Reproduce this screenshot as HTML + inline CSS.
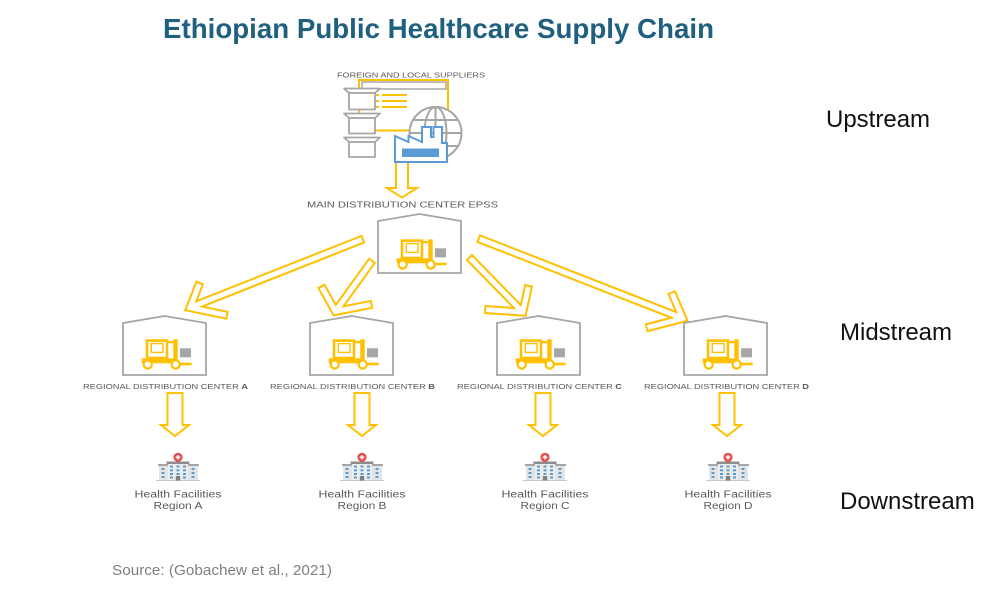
<!DOCTYPE html>
<html>
<head>
<meta charset="utf-8">
<style>
  html,body{margin:0;padding:0;background:#fff;}
  svg{display:block;}
  text{font-family:"Liberation Sans", Arial, sans-serif;}
</style>
</head>
<body>
<svg width="1005" height="590" viewBox="0 0 1005 590" xmlns="http://www.w3.org/2000/svg">
  <defs>
    <g id="wh">
      <polygon points="0,0 41.5,-7 83,0 83,52 0,52" fill="none" stroke="#A6A6A6" stroke-width="1.8" stroke-linejoin="miter"/>
    </g>
    <g id="fk">
      <rect x="18.7" y="35.3" width="35" height="5" fill="#FFC000"/>
      <rect x="24" y="17.6" width="20" height="17.4" fill="#fff" stroke="#FFC000" stroke-width="2.6"/>
      <rect x="28.3" y="20.6" width="11.7" height="8.8" fill="#fff" stroke="#FFC000" stroke-width="1.4"/>
      <rect x="44" y="18" width="7" height="2.2" fill="#FFC000"/>
      <rect x="50.3" y="16.3" width="4.4" height="25.7" fill="#FFC000"/>
      <rect x="53.7" y="39.7" width="15" height="2.6" fill="#FFC000"/>
      <rect x="57" y="25.3" width="11" height="9" fill="#A6A6A6"/>
      <circle cx="24.7" cy="41.5" r="4.1" fill="#fff" stroke="#FFC000" stroke-width="2.2"/>
      <circle cx="52.7" cy="41.5" r="4.1" fill="#fff" stroke="#FFC000" stroke-width="2.2"/>
    </g>
    <g id="hs">
      <line x1="-22" y1="27.5" x2="22" y2="27.5" stroke="#c8c8c8" stroke-width="1"/>
      <rect x="-19" y="12" width="10" height="15" fill="#e4e4e4"/>
      <rect x="-20" y="11" width="11" height="2" fill="#a6a6a6"/>
      <rect x="9" y="12" width="11" height="15" fill="#e4e4e4"/>
      <rect x="9" y="11" width="12" height="2" fill="#a6a6a6"/>
      <rect x="-10" y="10" width="20" height="17" fill="#ececec"/>
      <rect x="-11.5" y="8.5" width="23" height="2.5" fill="#8c8c8c"/>
      <circle cx="0" cy="4.3" r="4.6" fill="#e84c4c"/>
      <rect x="-0.8" y="2" width="1.6" height="4.6" fill="#fff"/>
      <rect x="-2.3" y="3.5" width="4.6" height="1.6" fill="#fff"/>
      <g fill="#5B9BD5">
        <rect x="-8" y="12.5" width="3" height="2"/>
        <rect x="-1.5" y="12.5" width="3" height="2"/>
        <rect x="5" y="12.5" width="3" height="2"/>
        <rect x="-8" y="16.3" width="3" height="2"/>
        <rect x="-1.5" y="16.3" width="3" height="2"/>
        <rect x="5" y="16.3" width="3" height="2"/>
        <rect x="-8" y="20" width="3" height="2"/>
        <rect x="-1.5" y="20" width="3" height="2"/>
        <rect x="5" y="20" width="3" height="2"/>
        <rect x="-8" y="23.5" width="3" height="2"/>
        <rect x="5" y="23.5" width="3" height="2"/>
        <rect x="-16.5" y="15" width="3" height="2"/>
        <rect x="-16.5" y="19" width="3" height="2"/>
        <rect x="-16.5" y="23" width="3" height="2"/>
        <rect x="13.5" y="15" width="3" height="2"/>
        <rect x="13.5" y="19" width="3" height="2"/>
        <rect x="13.5" y="23" width="3" height="2"/>
      </g>
      <rect x="-2.2" y="23" width="4.4" height="4.5" fill="#7f7f7f"/>
    </g>
  </defs>

  <!-- Title -->
  <text x="163" y="38" font-size="28" font-weight="bold" fill="#1f5f80" textLength="551" lengthAdjust="spacingAndGlyphs">Ethiopian Public Healthcare Supply Chain</text>

  <!-- Right labels -->
  <text x="826" y="127" font-size="24" fill="#111">Upstream</text>
  <text x="840" y="340" font-size="24" fill="#111">Midstream</text>
  <text x="840" y="509" font-size="24" fill="#111">Downstream</text>

  <!-- Source -->
  <text x="112" y="575" font-size="15" fill="#7f7f7f" textLength="220" lengthAdjust="spacingAndGlyphs">Source: (Gobachew et al., 2021)</text>

  <!-- Suppliers -->
  <text x="337" y="77.3" font-size="7" fill="#595959" textLength="148" lengthAdjust="spacingAndGlyphs">FOREIGN AND LOCAL SUPPLIERS</text>
  <rect x="359" y="80" width="89" height="50.5" fill="#fff" stroke="#FFC000" stroke-width="2"/>
  <rect x="362" y="82" width="84" height="7" fill="#fff" stroke="#A6A6A6" stroke-width="1.5"/>
  <g stroke="#FFC000" stroke-width="2">
    <line x1="382" y1="95" x2="407" y2="95"/>
    <line x1="382" y1="101" x2="407" y2="101"/>
    <line x1="382" y1="107" x2="407" y2="107"/>
    <line x1="376" y1="95" x2="379" y2="95"/>
    <line x1="376" y1="101" x2="379" y2="101"/>
    <line x1="376" y1="107" x2="379" y2="107"/>
  </g>
  <g fill="#fff" stroke="#A6A6A6" stroke-width="1.8" stroke-linejoin="round">
    <polygon points="344,88.5 380,88.5 375,93 349,93"/>
    <rect x="349" y="93" width="26" height="16.5"/>
    <polygon points="344,113.5 380,113.5 375,118 349,118"/>
    <rect x="349" y="118" width="26" height="15.5"/>
    <polygon points="344,137.5 380,137.5 375,142 349,142"/>
    <rect x="349" y="142" width="26" height="15"/>
  </g>
  <!-- Globe -->
  <g stroke="#A6A6A6" stroke-width="2" fill="none">
    <circle cx="435.5" cy="133" r="26" fill="#fff"/>
    <ellipse cx="435.5" cy="133" rx="11" ry="26"/>
    <line x1="435.5" y1="107" x2="435.5" y2="159"/>
    <line x1="409.5" y1="133" x2="461.5" y2="133"/>
    <line x1="413" y1="120" x2="458" y2="120"/>
    <line x1="413" y1="146" x2="458" y2="146"/>
  </g>
  <!-- Main down arrow -->
  <polygon points="396,150 408,150 408,188 417,188 402,197.5 387,188 396,188" fill="#fff" stroke="#FFC000" stroke-width="2" stroke-linejoin="miter"/>
  <!-- Factory -->
  <path d="M395,162 L395,136 L408.5,142 L408.5,136 L422,142 L422,127 L431,127 L431,137 L433.5,137 L433.5,127 L442,127 L442,143 L447,143 L447,162 Z" fill="#fff" stroke="#5B9BD5" stroke-width="2" stroke-linejoin="miter"/>
  <rect x="402" y="148.5" width="37" height="8.5" fill="#5B9BD5"/>

  <!-- Main label -->
  <text x="307" y="207.5" font-size="8.5" fill="#595959" textLength="191" lengthAdjust="spacingAndGlyphs">MAIN DISTRIBUTION CENTER EPSS</text>

  <!-- Diagonal chevron arrows (outer yellow, inner white) -->
  <g fill="none" stroke-linejoin="miter" stroke-linecap="butt" stroke-miterlimit="10">
    <path d="M363.8,238.8 L190,307.6 M200,282 L190,307.6 L228,315.5" stroke="#FFC000" stroke-width="9"/>
    <path d="M361.9,239.5 L190,307.6 M199.3,283.9 L190,307.6 L226,315.1" stroke="#fff" stroke-width="5"/>

    <path d="M372.6,260 L335.4,311.5 M321,285.5 L335.4,311.5 L372.5,304.2" stroke="#FFC000" stroke-width="9"/>
    <path d="M371.4,261.6 L335.4,311.5 M322,287.3 L335.4,311.5 L370.5,304.6" stroke="#fff" stroke-width="5"/>

    <path d="M468.7,256.7 L522.8,312.1 M484.2,309.5 L522.8,312.1 L528.8,284.8" stroke="#FFC000" stroke-width="9"/>
    <path d="M470.1,258.1 L522.8,312.1 M486.2,309.6 L522.8,312.1 L528.4,286.8" stroke="#fff" stroke-width="5"/>

    <path d="M477.8,238.3 L682.7,318.4 M645.7,328 L682.7,318.4 L671.3,291.7" stroke="#FFC000" stroke-width="9"/>
    <path d="M479.7,239 L682.7,318.4 M647.6,327.5 L682.7,318.4 L672.1,293.5" stroke="#fff" stroke-width="5"/>
  </g>

  <!-- Main warehouse -->
  <use href="#wh" x="378" y="221"/>
  <use href="#fk" x="378" y="223"/>

  <!-- Regional warehouses -->
  <use href="#wh" x="123" y="323"/>
  <use href="#fk" x="123" y="323"/>
  <use href="#wh" x="310" y="323"/>
  <use href="#fk" x="310" y="323"/>
  <use href="#wh" x="497" y="323"/>
  <use href="#fk" x="497" y="323"/>
  <use href="#wh" x="684" y="323"/>
  <use href="#fk" x="684" y="323"/>

  <!-- Regional labels -->
  <g font-size="7.6" fill="#595959">
    <text x="83" y="389" textLength="165" lengthAdjust="spacingAndGlyphs">REGIONAL DISTRIBUTION CENTER <tspan font-weight="bold">A</tspan></text>
    <text x="270" y="389" textLength="165" lengthAdjust="spacingAndGlyphs">REGIONAL DISTRIBUTION CENTER <tspan font-weight="bold">B</tspan></text>
    <text x="457" y="389" textLength="165" lengthAdjust="spacingAndGlyphs">REGIONAL DISTRIBUTION CENTER <tspan font-weight="bold">C</tspan></text>
    <text x="644" y="389" textLength="165" lengthAdjust="spacingAndGlyphs">REGIONAL DISTRIBUTION CENTER <tspan font-weight="bold">D</tspan></text>
  </g>

  <!-- Regional down arrows -->
  <g fill="#fff" stroke="#FFC000" stroke-width="2" stroke-linejoin="miter">
    <polygon points="167.5,393 182.5,393 182.5,425 189,425 175,436 161,425 167.5,425"/>
    <polygon points="354.5,393 369.5,393 369.5,425 376,425 362,436 348,425 354.5,425"/>
    <polygon points="535.5,393 550.5,393 550.5,425 557,425 543,436 529,425 535.5,425"/>
    <polygon points="719.5,393 734.5,393 734.5,425 741,425 727,436 713,425 719.5,425"/>
  </g>

  <!-- Hospitals -->
  <use href="#hs" x="178" y="453"/>
  <use href="#hs" x="362" y="453"/>
  <use href="#hs" x="545" y="453"/>
  <use href="#hs" x="728" y="453"/>

  <g font-size="10" fill="#595959" text-anchor="middle">
    <text x="178" y="497.7" textLength="87" lengthAdjust="spacingAndGlyphs">Health Facilities</text>
    <text x="178" y="509" textLength="49" lengthAdjust="spacingAndGlyphs">Region A</text>
    <text x="362" y="497.7" textLength="87" lengthAdjust="spacingAndGlyphs">Health Facilities</text>
    <text x="362" y="509" textLength="49" lengthAdjust="spacingAndGlyphs">Region B</text>
    <text x="545" y="497.7" textLength="87" lengthAdjust="spacingAndGlyphs">Health Facilities</text>
    <text x="545" y="509" textLength="49" lengthAdjust="spacingAndGlyphs">Region C</text>
    <text x="728" y="497.7" textLength="87" lengthAdjust="spacingAndGlyphs">Health Facilities</text>
    <text x="728" y="509" textLength="49" lengthAdjust="spacingAndGlyphs">Region D</text>
  </g>
</svg>
</body>
</html>
